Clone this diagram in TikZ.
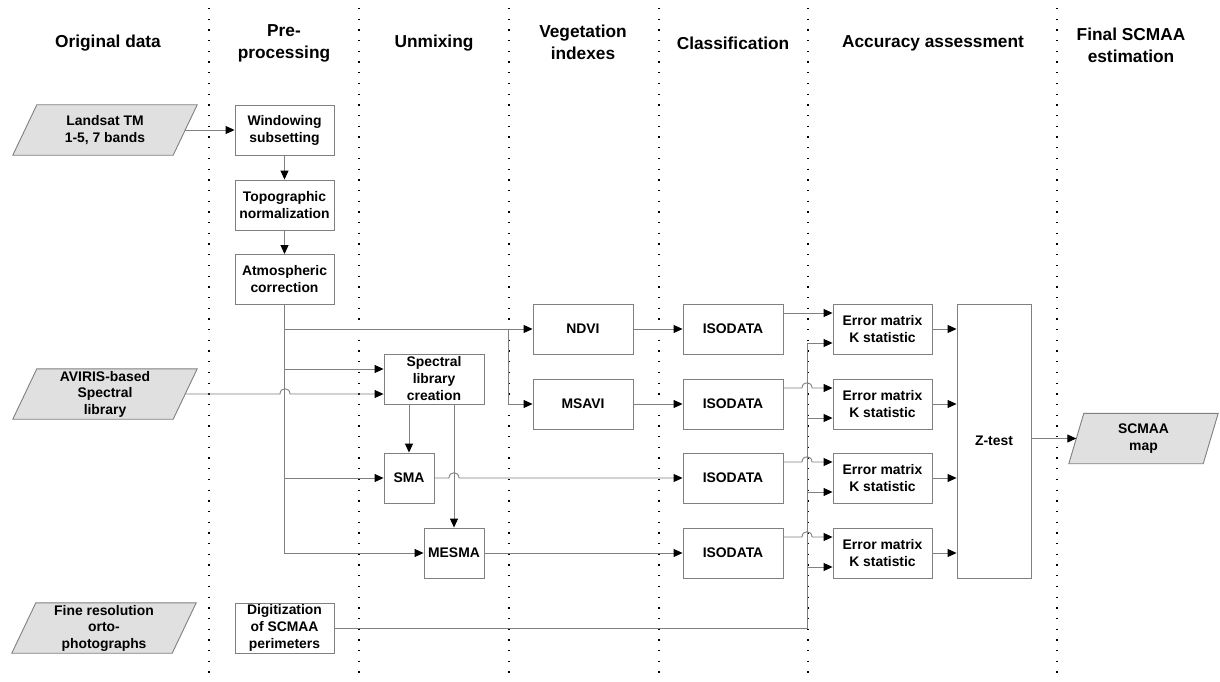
\documentclass[tikz,border=0pt]{standalone}
\usepackage{fontspec}
\setmainfont{Liberation Sans}
\usetikzlibrary{arrows.meta,calc,backgrounds}
\definecolor{linegray}{RGB}{128,128,128}
\definecolor{parafill}{RGB}{224,224,224}
\begin{document}
\begin{tikzpicture}[x=1pt,y=-1pt,
  boxnode/.style={draw=linegray,line width=0.9pt,fill=white,minimum width=#1,minimum height=50,inner sep=0pt,align=center,font=\bfseries\fontsize{13.9}{17}\selectfont},
  boxnode/.default=99,
  paranode/.style={minimum width=#1,minimum height=50,inner sep=0pt,align=center,font=\bfseries\fontsize{13.9}{16.5}\selectfont},
  paranode/.default=160,
  parashape/.style={draw=linegray,line width=0.9pt,fill=parafill},
  header/.style={align=center,font=\bfseries\fontsize{17.3}{22}\selectfont},
  conn/.style={draw=linegray,line width=0.9pt},
  arr/.style={conn,-{Triangle[length=9pt,width=8pt,color=black]}},
  sepline/.style={draw=black,line width=1.3pt,dash pattern=on 1.3pt off 9.4pt}
]
\useasboundingbox (0,0) rectangle (1220,682);
% separators
\foreach \xx/\nm in {209/s1,359/s2,509/s3,659/s4,808/s5,1057/s6}{
  \coordinate (\nm top) at (\xx,8);
  \coordinate (\nm bot) at (\xx,680);
  \draw[sepline] (\nm top) -- (\nm bot);
}
% headers
\node[header] (h1) at (108,43) {Original data};
\node[header] (h2) at (284,43) {Pre-\\processing};
\node[header] (h3) at (434,43) {Unmixing};
\node[header] (h4) at (583,42) {Vegetation\\indexes};
\node[header] (h5) at (733,43) {Classification};
\node[header] (h6) at (933,43) {Accuracy assessment};
\node[header] (h7) at (1131,45) {Final SCMAA\\estimation};

% input parallelograms
\node[paranode] (landsat) at (105,130) {Landsat TM\\1-5, 7 bands};
\node[paranode] (aviris) at (105,394) {AVIRIS-based\\Spectral\\library};
\node[paranode] (fine) at (104,628) {Fine resolution\\orto-\\photographs};
\node[paranode=134] (scmaa) at (1143.5,438.5) {SCMAA\\map};
\begin{scope}[on background layer]
\foreach \nd/\s in {landsat/12,aviris/12,fine/12,scmaa/7.5}{
  \draw[parashape] ([xshift=-\s pt]\nd.south west) -- ([xshift=\s pt]\nd.north west)
    -- ([xshift=\s pt]\nd.north east) -- ([xshift=-\s pt]\nd.south east) -- cycle;
}
\end{scope}

% boxes
\node[boxnode] (win) at (284.5,130) {Windowing\\subsetting};
\node[boxnode] (topo) at (284.5,205) {Topographic\\normalization};
\node[boxnode] (atmo) at (284.5,279.5) {Atmospheric\\correction};
\node[boxnode] (dig) at (284.5,628) {Digitization\\of SCMAA\\perimeters};
\node[boxnode=100] (spec) at (434,379) {Spectral\\library\\creation};
\node[boxnode=50] (sma) at (409,478) {SMA};
\node[boxnode=60] (mesma) at (454,553) {MESMA};
\node[boxnode=100] (ndvi) at (583,329) {NDVI};
\node[boxnode=100] (msavi) at (583,404) {MSAVI};
\foreach \i/\yy in {1/329,2/404,3/478,4/553}{
  \node[boxnode=100] (iso\i) at (733,\yy) {ISODATA};
  \node[boxnode] (err\i) at (882.5,\yy) {Error matrix\\K statistic};
}
\node[boxnode=74,minimum height=274] (z) at (994,441) {Z-test};

% coordinates for trunks
\coordinate (trunkA) at (285,0);
\coordinate (trunkB) at (508,329);
\coordinate (trunkC) at (807,0);

% pre-processing chain
\draw[arr] (landsat.east) -- (win.west);
\draw[arr] (win.south) -- (topo.north);
\draw[arr] (topo.south) -- (atmo.north);
\draw[arr] (atmo.south) |- (mesma.west);
\draw[arr] (atmo.south |- ndvi.west) -- (ndvi.west);
\draw[arr] (atmo.south |- 0,369) -- (spec.west |- 0,369);
\draw[arr] (atmo.south |- sma.west) -- (sma.west);
\draw[arr] (trunkB) |- (msavi.west);
% AVIRIS with jump over trunk
\draw[arr] (aviris.east) -- ($(trunkA |- aviris.east)+(-5,0)$)
  .. controls +(0,-7) and +(0,-7) .. ($(trunkA |- aviris.east)+(5,0)$)
  -- (spec.west |- aviris.east);
% spectral library to SMA / MESMA
\draw[arr] (spec.south -| sma.north) -- (sma.north);
\draw[arr] (spec.south -| mesma.north) -- (mesma.north);
% SMA with jump over the MESMA feed
\draw[arr] (sma.east) -- ($(mesma.north |- sma.east)+(-5,0)$)
  .. controls +(0,-7) and +(0,-7) .. ($(mesma.north |- sma.east)+(5,0)$)
  -- (iso3.west);
\draw[arr] (mesma.east) -- (iso4.west);
\draw[arr] (ndvi.east) -- (iso1.west);
\draw[arr] (msavi.east) -- (iso2.west);

% classification to accuracy
\draw[arr] ([yshift=16pt]iso1.east) -- ([yshift=16pt]err1.west);
\foreach \i in {2,3,4}{
  \draw[arr] ([yshift=16pt]iso\i.east) coordinate (st\i)
    -- ($(trunkC |- st\i)+(-5,0)$)
    .. controls +(0,-7) and +(0,-7) .. ($(trunkC |- st\i)+(5,0)$)
    -- (err\i.west |- st\i);
}
% reference trunk from digitization
\draw[arr] (dig.east) -- (trunkC |- dig.east) -- (trunkC |- 0,343) -- ([yshift=-14pt]err1.west);
\foreach \i in {2,3,4}{
  \draw[arr] ([yshift=-14pt]err\i.west -| trunkC) -- ([yshift=-14pt]err\i.west);
}
% accuracy to Z-test
\foreach \i in {1,2,3,4}{
  \draw[arr] (err\i.east) -- (err\i.east -| z.west);
}
\draw[arr] (scmaa.west -| z.east) -- (scmaa.west);
\end{tikzpicture}
\end{document}
